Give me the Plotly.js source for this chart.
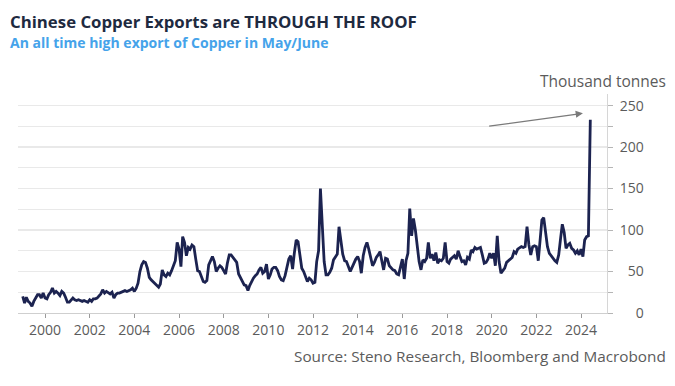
<!DOCTYPE html>
<html>
<head>
<meta charset="utf-8">
<script src="https://cdn.plot.ly/plotly-3.0.1.min.js"></script>
<style>
  html, body { margin: 0; padding: 0; background: #ffffff; }
  #chart { width: 675px; height: 386px; }
</style>
</head>
<body>
<div id="chart"></div>
<script>
// Monthly Chinese copper exports, thousand tonnes
const v1999 = [20, 12, 19, 14, 12, 8, 14, 19, 22, 22, 18, 24];
const v2000 = [18, 17, 22, 25, 30, 24, 26, 24, 21, 26, 24, 19];
const v2001 = [13, 13, 16, 18, 16, 15, 16, 15, 14, 15, 14, 13];
const v2002 = [16, 14, 17, 17, 18, 21, 23, 28, 24, 26, 24, 23];
const v2003 = [25, 18, 22, 24, 24, 25, 26, 27, 26, 27, 28, 30];
const v2004 = [26, 30, 36, 50, 58, 62, 61, 54, 43, 40, 38, 36];
const v2005 = [34, 31, 35, 52, 46, 44, 48, 46, 51, 57, 63, 85];
const v2006 = [77, 56, 92, 85, 69, 79, 77, 82, 80, 65, 51, 50];
const v2007 = [43, 38, 37, 39, 58, 63, 68, 62, 50, 54, 57, 55];
const v2008 = [50, 47, 60, 70, 70, 67, 64, 61, 47, 43, 38, 34];
const v2009 = [33, 27, 33, 38, 42, 45, 47, 52, 55, 48, 50, 59];
const v2010 = [41, 46, 53, 55, 55, 51, 44, 40, 39, 45, 56, 65];
const v2011 = [69, 53, 72, 88, 86, 70, 54, 50, 44, 38, 42, 40];
const v2012 = [36, 37, 62, 75, 150, 95, 62, 46, 46, 49, 54, 64];
const v2013 = [68, 71, 104, 85, 71, 63, 62, 56, 50, 55, 61, 65];
const v2014 = [68, 62, 48, 69, 79, 85, 77, 66, 57, 61, 67, 70];
const v2015 = [74, 62, 52, 66, 65, 57, 54, 52, 51, 47, 46, 57];
const v2016 = [65, 41, 63, 72, 126, 93, 114, 100, 80, 62, 52, 64];
const v2017 = [62, 66, 85, 66, 71, 63, 73, 60, 64, 63, 66, 85];
const v2018 = [62, 60, 65, 67, 69, 65, 75, 68, 62, 63, 58, 67];
const v2019 = [65, 76, 74, 79, 77, 78, 79, 70, 60, 61, 65, 72];
const v2020 = [66, 72, 57, 93, 62, 48, 51, 54, 61, 63, 65, 67];
const v2021 = [74, 72, 77, 79, 80, 79, 80, 104, 82, 70, 80, 81];
const v2022 = [80, 63, 85, 112, 115, 97, 80, 72, 69, 65, 63, 61];
const v2023 = [70, 90, 107, 97, 78, 82, 84, 78, 76, 72, 75, 70];
const v2024 = [77, 68, 88, 92, 93, 233];

const yearlySeries = [
  [1999, v1999], [2000, v2000], [2001, v2001], [2002, v2002], [2003, v2003],
  [2004, v2004], [2005, v2005], [2006, v2006], [2007, v2007], [2008, v2008],
  [2009, v2009], [2010, v2010], [2011, v2011], [2012, v2012], [2013, v2013],
  [2014, v2014], [2015, v2015], [2016, v2016], [2017, v2017], [2018, v2018],
  [2019, v2019], [2020, v2020], [2021, v2021], [2022, v2022], [2023, v2023],
  [2024, v2024]
];

const yTickVals = [0, 25, 50, 75, 100, 125, 150, 175, 200, 225, 250];
const yTickText = ['\u2007\u20070', '', '\u200750', '', '100', '', '150', '', '200', '', '250'];

const titleText = 'Chinese Copper Exports are THROUGH THE ROOF';
const subtitleText = 'An all time high export of Copper in May/June';
const unitText = 'Thousand tonnes';
const sourceText = 'Source: Steno Research, Bloomberg and Macrobond';

const dates = [];
const values = [];
yearlySeries.forEach(([yr, arr]) => {
  arr.forEach((v, m) => {
    dates.push(yr + '-' + String(m + 1).padStart(2, '0') + '-01');
    values.push(v);
  });
});

const FONT = 'Open Sans, Noto Sans, sans-serif';
const GREY = '#5b5b5b';

const trace = {
  x: dates,
  y: values,
  type: 'scatter',
  mode: 'lines',
  line: { color: '#1c2350', width: 2.8 },
  hoverinfo: 'skip'
};

const layout = {
  width: 675,
  height: 386,
  margin: { l: 18, r: 68, t: 93.5, b: 72.5 },
  paper_bgcolor: '#ffffff',
  plot_bgcolor: '#ffffff',
  showlegend: false,
  font: { family: FONT, color: GREY },
  xaxis: {
    type: 'date',
    range: ['1998-10-16', '2025-03-01'],
    tickmode: 'linear',
    tick0: '2000-01-01',
    dtick: 'M24',
    tickformat: '%Y',
    ticks: 'outside',
    ticklen: 4,
    tickwidth: 1,
    tickcolor: '#9a9a9a',
    showline: true,
    linecolor: '#cfcfcf',
    linewidth: 1,
    showgrid: false,
    zeroline: false,
    tickfont: { family: FONT, size: 14, color: GREY }
  },
  yaxis: {
    side: 'right',
    range: [0, 264],
    tickmode: 'array',
    tickvals: yTickVals,
    ticktext: yTickText,
    ticks: 'outside',
    ticklen: 5,
    tickwidth: 1,
    tickcolor: '#b5b5b5',
    ticklabelstandoff: 4,
    showline: true,
    linecolor: '#d6d6d6',
    linewidth: 1,
    showgrid: true,
    gridcolor: '#e9e9e9',
    gridwidth: 1.2,
    zeroline: false,
    tickfont: { family: FONT, size: 14, color: GREY }
  },
  annotations: [
    {
      xref: 'paper', yref: 'paper', x: -0.017, y: 1.332,
      xanchor: 'left', yanchor: 'middle', showarrow: false,
      text: '<b>' + titleText + '</b>',
      font: { family: FONT, size: 16.8, color: '#1e2a3f' }
    },
    {
      xref: 'paper', yref: 'paper', x: -0.017, y: 1.236,
      xanchor: 'left', yanchor: 'middle', showarrow: false,
      text: '<b>' + subtitleText + '</b>',
      font: { family: FONT, size: 14, color: '#45a3ea' }
    },
    {
      xref: 'paper', yref: 'paper', x: 1.1036, y: 1.061,
      xanchor: 'right', yanchor: 'middle', showarrow: false,
      text: unitText,
      font: { family: FONT, size: 15.5, color: GREY }
    },
    {
      xref: 'paper', yref: 'paper', x: 1.1036, y: -0.198,
      xanchor: 'right', yanchor: 'middle', showarrow: false,
      text: sourceText,
      font: { family: FONT, size: 15.3, color: GREY }
    },
    {
      xref: 'x', yref: 'y', axref: 'x', ayref: 'y',
      x: '2024-02-01', y: 240.7,
      ax: '2019-10-27', ay: 225,
      text: '', showarrow: true,
      arrowhead: 2, arrowsize: 1.2, arrowwidth: 1.2,
      arrowcolor: '#7a7a7a'
    }
  ]
};

Plotly.newPlot('chart', [trace], layout, { staticPlot: true, displayModeBar: false });
</script>
</body>
</html>
